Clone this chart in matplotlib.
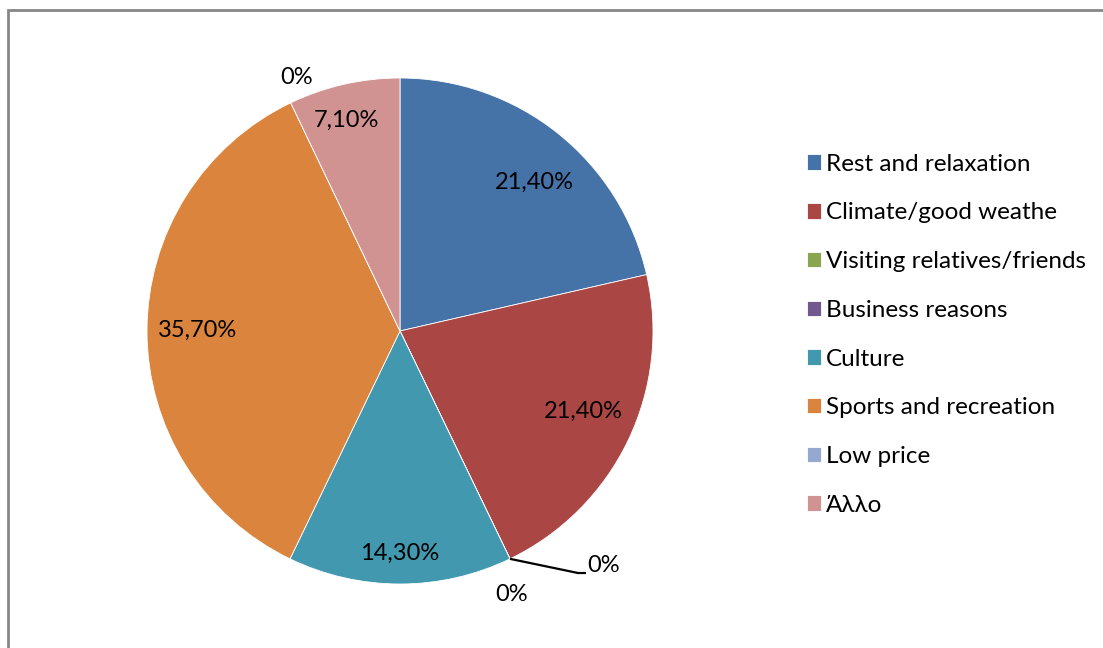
import numpy as np
import matplotlib.pyplot as plt
from matplotlib.patches import Rectangle

# Data
categories = ["Rest and relaxation", "Climate/good weathe", "Visiting relatives/friends",
              "Business reasons", "Culture", "Sports and recreation", "Low price", "Άλλο"]
values = [21.4, 21.4, 0.0, 0.0, 14.3, 35.7, 0.0, 7.1]
labels = ["21,40%", "21,40%", "0%", "0%", "14,30%", "35,70%", "0%", "7,10%"]
colors = ["#4572A7", "#AA4643", "#89A54E", "#71588F", "#4198AF", "#DB843D", "#93A9CF", "#D19392"]

plt.rcParams['font.family'] = ['Lato', 'DejaVu Sans']

W, H = 1103, 648
fig = plt.figure(figsize=(W / 100, H / 100), dpi=100)
ax = fig.add_axes([0, 0, 1, 1])

cx, cy, R = 400, H - 331, 253
wedges, _ = ax.pie(values, colors=colors, startangle=90, counterclock=False,
                   center=(cx, cy), radius=R,
                   wedgeprops=dict(edgecolor="white", linewidth=0.6))
ax.set_xlim(0, W)
ax.set_ylim(0, H)
ax.set_aspect('equal')
ax.axis('off')

fs = 17
# label distance (in radius units) and angle nudge per slice
label_r = [0.79, 0.79, None, 1.13, 0.88, 0.80, 1.08, 0.86]
label_da = [-3.5, 2.0, 0, -2.8, 0, 0, -3.4, 1.5]
for w, lab, lr, da in zip(wedges, labels, label_r, label_da):
    mid = np.deg2rad((w.theta1 + w.theta2) / 2 + da)
    if lr is None:
        # zero slice with leader line
        a = np.deg2rad(w.theta1)
        x0, y0 = cx + R * np.cos(a), cy + R * np.sin(a)
        ax.plot([x0, 578, 586], [y0, H - 573, H - 573], color="black", lw=1.6,
                solid_capstyle='butt')
        ax.text(587, H - 566, lab, fontsize=fs, ha='left', va='center')
        continue
    ax.text(cx + lr * R * np.cos(mid), cy + lr * R * np.sin(mid), lab,
            fontsize=fs, ha='center', va='center')

ax.legend(wedges, categories, loc='upper left', bbox_to_anchor=(797 / W, 1 - 144 / H),
          frameon=False, fontsize=17.5, handlelength=0.6, handleheight=0.6,
          handletextpad=0.2, labelspacing=1.14, borderaxespad=0)

# chart frame
fig.patches.append(Rectangle((7.5 / W, -0.1), 1.2, 1 - 9.5 / H + 0.1,
                             transform=fig.transFigure, fill=False,
                             edgecolor="#868686", lw=2))

fig.savefig("out.png", dpi=100)
